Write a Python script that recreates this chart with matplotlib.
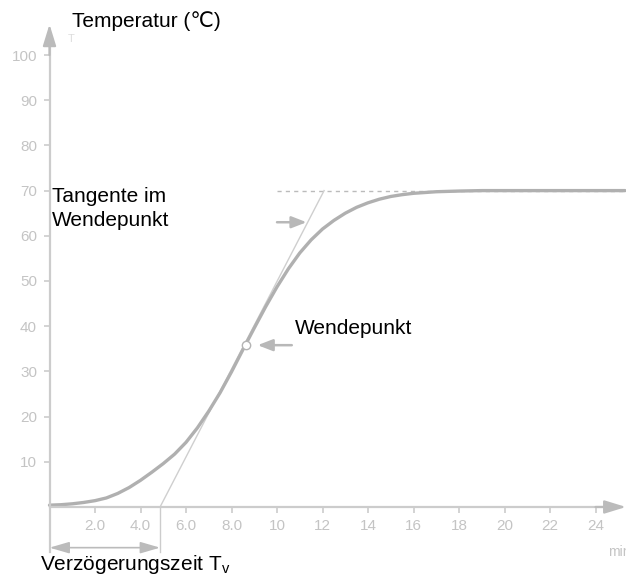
import numpy as np
import matplotlib
matplotlib.use("Agg")
import matplotlib.pyplot as plt

plt.rcParams['font.family'] = ['Liberation Sans', 'DejaVu Sans']

# step response
time = [0, 0.5, 1, 1.5, 2, 2.5, 3, 3.5, 4, 4.5, 5, 5.5, 6, 6.5, 7, 7.5, 8,
        8.5, 9, 9.5, 10, 10.5, 11, 11.5, 12, 12.5, 13, 13.5, 14, 14.5, 15,
        15.5, 16, 17, 18, 19, 20, 22, 24, 25.3]
temp = [0.4, 0.5, 0.7, 1.0, 1.4, 2.0, 3.0, 4.3, 5.9, 7.7, 9.6, 11.7, 14.3,
        17.5, 21.2, 25.3, 29.9, 34.8, 39.6, 44.3, 48.7, 52.7, 56.2, 59.1,
        61.5, 63.4, 65.0, 66.3, 67.3, 68.1, 68.7, 69.1, 69.4, 69.75, 69.9,
        70.0, 70.0, 70.0, 70.0, 70.0]

tangent_t = [4.86, 12.07]
tangent_T = [0, 70]
final_t = [10.0, 25.3]
final_T = [70, 70]
wp_t = [8.62]
wp_T = [35.8]

x_ticks = [2, 4, 6, 8, 10, 12, 14, 16, 18, 20, 22, 24]
x_labels = ["2.0", "4.0", "6.0", "8.0", "10", "12", "14", "16", "18", "20", "22", "24"]
y_ticks = [10, 20, 30, 40, 50, 60, 70, 80, 90, 100]

axis_c = "#cccccc"
tick_c = "#c4c4c4"
curve_c = "#b0b0b0"

fig = plt.figure(figsize=(6.26, 5.76), dpi=100)
ax = fig.add_axes([0, 0, 1, 1])
ax.set_xlim(-2.176, 25.34)
ax.set_ylim(-15.27, 112.17)

for s in ['top', 'right']:
    ax.spines[s].set_visible(False)
ax.spines['left'].set_position(('data', 0))
ax.spines['bottom'].set_position(('data', 0))
ax.spines['left'].set_bounds(-10, 104)
ax.spines['bottom'].set_bounds(0, 24.8)
for s in ['left', 'bottom']:
    ax.spines[s].set_color(axis_c)
    ax.spines[s].set_linewidth(1.6)

ax.set_xticks(x_ticks, x_labels)
ax.set_yticks(y_ticks, [str(v) for v in y_ticks])
ax.tick_params(axis='both', colors=axis_c, labelcolor=tick_c, labelsize=11,
               length=4, width=1.2, direction='out')
ax.tick_params(axis='x', pad=5)
ax.tick_params(axis='y', pad=5)

# axis arrows
head = dict(color="#bbbbbb", lw=1.6, mutation_scale=10, shrinkA=0, shrinkB=0,
            arrowstyle='-|>,head_length=1.3,head_width=0.4')
ax.annotate('', xy=(0, 106.8), xytext=(0, 100), arrowprops=head)
ax.annotate('', xy=(25.34, 0), xytext=(24.0, 0), arrowprops=head)

# final value and tangent
ax.plot(final_t, final_T, color="#bbbbbb", lw=1.0, ls=(0, (3, 3)))
ax.plot(tangent_t, tangent_T, color="#cfcfcf", lw=1.0)
ax.plot(time, temp, color=curve_c, lw=2.4, solid_capstyle='round')
ax.plot(wp_t, wp_T, 'o', ms=6, mfc='white', mec="#b4b4b4", mew=1.0)

# delay time bracket
ax.plot([tangent_t[0], tangent_t[0]], [0, -10], color=axis_c, lw=1.0)
ax.annotate('', xy=(0, -9), xytext=(tangent_t[0], -9),
            arrowprops=dict(arrowstyle='<|-|>,head_length=1.2,head_width=0.35',
                            color="#bbbbbb", lw=1.2, mutation_scale=10,
                            shrinkA=0, shrinkB=0))

# pointer arrows
ap = dict(arrowstyle='-|>,head_length=0.9,head_width=0.35', color="#b8b8b8",
          lw=1.8, mutation_scale=10, shrinkA=0, shrinkB=0)
ax.annotate('', xy=(11.3, 63.0), xytext=(10.0, 63.0), arrowprops=ap)
ax.annotate('', xy=(9.15, 35.8), xytext=(10.65, 35.8), arrowprops=ap)

# texts
ax.text(1.0, 107.6, "Temperatur (\u2103)", fontsize=15, color='black',
        va='center', ha='left')
ax.text(0.1, 66.0, "Tangente im\nWendepunkt", fontsize=15, color='black',
        va='center', ha='left', linespacing=1.3)
ax.text(10.8, 39.6, "Wendepunkt", fontsize=15, color='black',
        va='center', ha='left')
ax.text(-0.42, -12.8, "Verz\u00f6gerungszeit T$_\\mathregular{v}$", fontsize=15,
        color='black', va='center', ha='left')
ax.text(24.55, -10.0, "min", fontsize=10, color=tick_c, va='center', ha='left')
ax.text(0.8, 103.5, "T", fontsize=8, color="#dddddd", va='center', ha='left')

fig.savefig("out.png", dpi=100)
